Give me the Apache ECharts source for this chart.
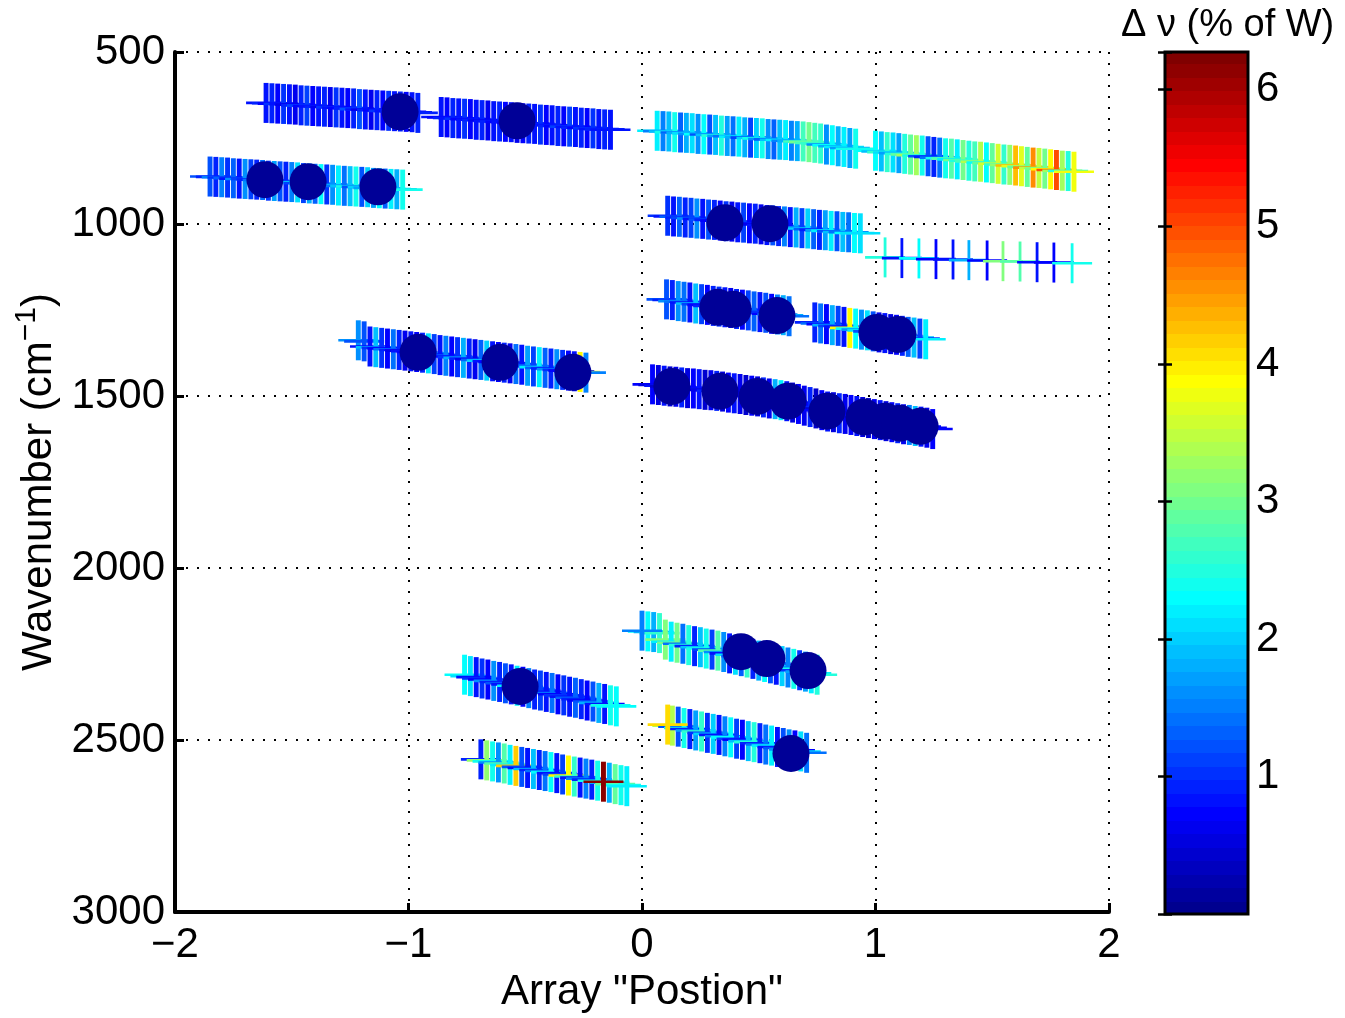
<!DOCTYPE html>
<html>
<head>
<meta charset="utf-8">
<script src="https://cdn.jsdelivr.net/npm/echarts@6/dist/echarts.min.js"></script>
<style>
html,body{margin:0;padding:0;background:#fff;}
#chart{width:1345px;height:1018px;}
</style>
</head>
<body>
<div id="chart"></div>
<script>
// Each band: [array position, wavenumber (cm^-1), delta-nu (% of W)]
const bandA = [[-1.610,648,0.8],[-1.585,649,0.9],[-1.560,650,0.7],[-1.535,651,1.0],[-1.510,652,0.8],[-1.485,653,0.6],[-1.460,655,0.9],[-1.435,656,1.1],[-1.410,657,0.7],[-1.385,658,0.8],[-1.360,659,0.9],[-1.335,660,0.6],[-1.310,661,1.0],[-1.285,662,0.8],[-1.260,663,0.7],[-1.235,664,0.9],[-1.210,666,1.2],[-1.185,667,0.8],[-1.160,668,0.6],[-1.135,669,0.9],[-1.110,670,0.7],[-1.085,671,1.0],[-1.060,672,0.8],[-1.035,673,0.9],[-1.010,674,0.7],[-0.985,675,0.8],[-0.960,677,0.9]];
const bandB = [[-0.860,689,0.8],[-0.835,690,0.7],[-0.810,692,0.9],[-0.785,693,0.8],[-0.760,694,1.0],[-0.735,695,0.7],[-0.710,697,0.8],[-0.685,698,0.9],[-0.660,699,0.6],[-0.635,701,0.8],[-0.610,702,0.9],[-0.585,703,0.7],[-0.560,704,0.8],[-0.535,706,0.6],[-0.510,707,0.7],[-0.485,708,0.9],[-0.460,709,0.8],[-0.435,711,1.0],[-0.410,712,0.7],[-0.385,713,0.8],[-0.360,715,0.9],[-0.335,716,0.7],[-0.310,717,1.1],[-0.285,718,0.8],[-0.260,720,0.9],[-0.235,721,0.7],[-0.210,722,1.0],[-0.185,724,0.8],[-0.160,725,0.9],[-0.135,726,0.8]];
const bandC = [[-1.850,862,1.2],[-1.825,863,0.9],[-1.800,864,1.5],[-1.775,865,1.0],[-1.750,867,1.3],[-1.725,868,0.8],[-1.700,869,1.6],[-1.675,870,1.1],[-1.650,871,0.9],[-1.625,872,1.4],[-1.600,874,1.0],[-1.575,875,1.7],[-1.550,876,1.2],[-1.525,877,0.9],[-1.500,878,1.5],[-1.475,879,2.1],[-1.450,881,1.1],[-1.425,882,1.8],[-1.400,883,1.3],[-1.375,884,2.3],[-1.350,885,1.0],[-1.325,886,1.6],[-1.300,888,2.2],[-1.275,889,1.4],[-1.250,890,1.9],[-1.225,891,2.4],[-1.200,892,1.2],[-1.175,893,2.0],[-1.150,895,1.7],[-1.125,896,2.3],[-1.100,897,1.3],[-1.075,898,2.2],[-1.050,899,1.8],[-1.025,900,2.4]];
const bandD = [[0.065,729,2.2],[0.090,730,1.5],[0.115,731,1.9],[0.140,733,2.4],[0.165,734,1.3],[0.190,735,1.8],[0.215,736,2.1],[0.240,738,1.6],[0.265,739,2.3],[0.290,740,1.2],[0.315,741,1.9],[0.340,743,2.5],[0.365,744,1.7],[0.390,745,1.4],[0.415,746,2.2],[0.440,748,1.8],[0.465,749,1.1],[0.490,750,2.0],[0.515,751,2.4],[0.540,753,1.6],[0.565,754,1.3],[0.590,755,1.9],[0.615,756,2.2],[0.640,758,1.5],[0.665,759,1.8],[0.690,760,2.7],[0.715,762,3.0],[0.740,764,2.7],[0.765,766,2.6],[0.790,769,1.6],[0.815,771,2.3],[0.840,774,1.8],[0.865,776,2.2],[0.890,779,1.7],[0.915,781,2.4]];
const bandE = [[1.000,787,2.3],[1.025,789,1.9],[1.050,791,2.6],[1.075,792,2.1],[1.100,794,1.7],[1.125,796,2.5],[1.150,798,2.9],[1.175,800,3.3],[1.200,801,2.4],[1.225,803,1.2],[1.250,805,0.9],[1.275,807,1.4],[1.300,809,2.4],[1.325,810,2.8],[1.350,812,2.2],[1.375,814,3.0],[1.400,816,2.5],[1.425,818,2.7],[1.450,819,3.4],[1.475,821,2.3],[1.500,823,2.9],[1.525,825,3.6],[1.550,827,2.6],[1.575,828,3.2],[1.600,830,4.3],[1.625,832,3.7],[1.650,834,2.9],[1.675,836,4.6],[1.700,837,3.5],[1.725,839,3.0],[1.750,841,3.9],[1.775,843,5.0],[1.800,845,3.3],[1.825,846,2.5],[1.850,848,3.8]];
const bandF = [[0.110,976,1.0],[0.135,978,0.8],[0.160,979,1.3],[0.185,981,0.9],[0.210,982,1.1],[0.235,984,1.6],[0.260,985,0.8],[0.285,987,1.2],[0.310,988,0.9],[0.335,990,0.7],[0.360,992,1.0],[0.385,993,0.6],[0.410,995,0.8],[0.435,996,1.1],[0.460,998,0.7],[0.485,999,0.9],[0.510,1001,0.6],[0.535,1003,0.8],[0.560,1004,1.2],[0.585,1006,0.9],[0.610,1007,1.5],[0.635,1009,0.8],[0.660,1010,1.8],[0.685,1012,1.1],[0.710,1013,2.0],[0.735,1015,1.3],[0.760,1017,0.9],[0.785,1018,1.7],[0.810,1020,2.2],[0.835,1021,1.2],[0.860,1023,1.9],[0.885,1024,1.4],[0.910,1026,2.3],[0.935,1027,2.1]];
const bandG = [[1.041,1097,2.5],[1.113,1099,0.8],[1.186,1100,2.3],[1.259,1102,0.7],[1.332,1103,0.8],[1.400,1105,1.8],[1.478,1106,0.7],[1.546,1108,3.1],[1.619,1109,2.8],[1.692,1111,0.8],[1.764,1112,0.7],[1.842,1114,2.4]];
const bandH = [[0.105,1219,1.2],[0.130,1221,0.9],[0.155,1224,1.6],[0.180,1226,1.4],[0.205,1228,0.8],[0.230,1231,1.9],[0.255,1233,1.1],[0.280,1235,0.7],[0.305,1238,0.9],[0.330,1240,1.0],[0.355,1242,0.8],[0.380,1244,0.6],[0.405,1247,0.9],[0.430,1249,0.7],[0.455,1251,1.1],[0.480,1254,1.3],[0.505,1256,0.8],[0.530,1258,1.2],[0.555,1261,0.7],[0.580,1263,1.5],[0.605,1265,1.8],[0.630,1268,1.4]];
const bandI = [[0.740,1286,0.9],[0.765,1289,1.4],[0.790,1291,0.7],[0.815,1294,1.8],[0.840,1296,1.1],[0.865,1299,0.8],[0.890,1302,3.9],[0.915,1304,2.3],[0.940,1307,1.6],[0.965,1309,2.1],[0.990,1312,1.2],[1.015,1315,0.6],[1.040,1317,0.8],[1.065,1320,0.5],[1.090,1322,0.7],[1.115,1325,0.9],[1.140,1328,1.3],[1.165,1330,1.9],[1.190,1333,1.1],[1.215,1335,2.2]];
const bandJ = [[0.045,1466,0.7],[0.070,1468,0.5],[0.095,1470,0.8],[0.120,1472,0.4],[0.145,1473,0.6],[0.170,1475,0.9],[0.195,1477,0.5],[0.220,1478,0.7],[0.245,1480,0.8],[0.270,1482,0.4],[0.295,1483,0.6],[0.320,1485,0.9],[0.345,1487,0.5],[0.370,1490,0.7],[0.395,1492,0.8],[0.420,1494,0.6],[0.445,1497,0.4],[0.470,1499,0.7],[0.495,1501,0.5],[0.520,1504,0.9],[0.545,1507,0.6],[0.570,1509,1.8],[0.595,1512,2.2],[0.620,1515,0.8],[0.645,1519,0.5],[0.670,1523,0.7],[0.695,1528,0.6],[0.720,1532,0.9],[0.745,1536,0.4],[0.770,1541,0.7],[0.795,1545,0.8],[0.820,1547,0.5],[0.845,1550,0.9],[0.870,1552,0.6],[0.895,1555,0.7],[0.920,1558,0.8],[0.945,1561,0.5],[0.970,1564,0.4],[0.995,1567,0.6],[1.020,1570,0.8],[1.045,1573,0.5],[1.070,1576,0.7],[1.095,1579,0.9],[1.120,1582,0.6],[1.145,1584,1.5],[1.170,1587,1.9],[1.195,1589,0.8],[1.220,1592,0.6],[1.245,1596,0.7]];
const bandK = [[-1.215,1338,1.6],[-1.190,1341,1.2],[-1.165,1356,0.8],[-1.140,1358,1.9],[-1.115,1360,1.0],[-1.090,1362,0.7],[-1.065,1364,1.4],[-1.040,1366,0.9],[-1.015,1368,0.6],[-0.990,1370,0.8],[-0.965,1372,0.7],[-0.940,1374,0.9],[-0.915,1376,2.1],[-0.890,1378,1.1],[-0.865,1381,0.8],[-0.840,1383,1.5],[-0.815,1385,0.7],[-0.790,1387,1.0],[-0.765,1389,1.8],[-0.740,1391,0.9],[-0.715,1393,0.6],[-0.690,1395,1.3],[-0.665,1397,2.0],[-0.640,1399,0.8],[-0.615,1401,0.7],[-0.590,1403,0.9],[-0.565,1405,0.6],[-0.540,1407,1.4],[-0.515,1409,0.8],[-0.490,1412,1.7],[-0.465,1414,1.1],[-0.440,1416,2.2],[-0.415,1418,1.3],[-0.390,1420,0.9],[-0.365,1422,1.6],[-0.340,1424,1.0],[-0.315,1426,0.7],[-0.290,1428,0.8],[-0.265,1430,3.9],[-0.240,1432,1.5]];
const bandL = [[0.025,2184,2.3],[0.050,2186,1.8],[0.075,2189,2.6],[0.100,2208,3.1],[0.125,2214,2.2],[0.150,2217,3.0],[0.175,2220,1.4],[0.200,2224,2.5],[0.225,2227,0.9],[0.250,2230,1.9],[0.275,2234,2.4],[0.300,2237,1.1],[0.325,2240,2.8],[0.350,2244,1.6],[0.375,2248,0.8],[0.400,2252,2.1],[0.425,2256,1.3],[0.450,2260,2.6],[0.475,2264,0.9],[0.500,2269,1.8],[0.525,2273,2.3],[0.550,2277,1.2],[0.575,2281,0.8],[0.600,2285,2.0],[0.625,2289,1.5],[0.650,2293,2.4],[0.675,2297,1.0],[0.700,2301,1.7],[0.725,2306,2.2],[0.750,2310,2.5],[0.000,2182,1.5]];
const bandM = [[0.130,2458,3.4],[0.155,2461,1.2],[0.180,2465,2.4],[0.205,2468,0.9],[0.230,2472,1.7],[0.255,2475,2.6],[0.280,2479,1.0],[0.305,2482,2.0],[0.330,2485,0.8],[0.355,2489,1.5],[0.380,2492,2.3],[0.405,2496,1.1],[0.430,2499,0.7],[0.455,2503,1.9],[0.480,2506,2.5],[0.505,2509,0.9],[0.530,2513,1.4],[0.555,2516,2.2],[0.580,2520,0.8],[0.605,2523,1.2],[0.630,2527,1.6],[0.655,2530,0.7],[0.680,2533,2.1],[0.705,2537,1.4],[0.110,2455,4.1]];
const bandN = [[-0.760,2310,2.3],[-0.735,2314,2.1],[-0.710,2317,0.8],[-0.685,2321,1.0],[-0.660,2324,0.7],[-0.635,2328,1.6],[-0.610,2331,0.9],[-0.585,2335,1.2],[-0.560,2338,0.8],[-0.535,2342,2.2],[-0.510,2345,0.7],[-0.485,2349,1.5],[-0.460,2353,0.9],[-0.435,2356,1.1],[-0.410,2360,0.8],[-0.385,2363,1.4],[-0.360,2367,0.7],[-0.335,2370,1.0],[-0.310,2374,0.8],[-0.285,2377,1.3],[-0.260,2381,0.9],[-0.235,2385,0.7],[-0.210,2388,1.2],[-0.185,2392,1.8],[-0.160,2395,0.8],[-0.135,2399,2.4],[-0.110,2402,2.3]];
const bandO = [[-0.690,2556,0.9],[-0.665,2559,3.2],[-0.640,2562,2.4],[-0.615,2565,1.6],[-0.590,2568,2.8],[-0.565,2572,2.2],[-0.540,2575,4.2],[-0.515,2578,1.2],[-0.490,2581,0.8],[-0.465,2584,1.9],[-0.440,2587,0.9],[-0.415,2590,1.4],[-0.390,2593,2.3],[-0.365,2596,0.8],[-0.340,2600,1.1],[-0.315,2603,3.9],[-0.290,2606,2.6],[-0.265,2609,0.8],[-0.240,2612,1.5],[-0.215,2615,0.9],[-0.190,2618,2.4],[-0.140,2624,1.8],[-0.115,2628,2.9],[-0.090,2631,2.4],[-0.065,2634,2.2],[-0.165,2621,6.2]];

// Points plotted with filled circles
const circlePoints = [[-1.036,674,0.05],[-0.535,700,0.05],[-1.615,871,0.05],[-1.430,877,0.05],[-1.131,892,0.05],[0.355,996,0.05],[0.548,999,0.05],[0.325,1242,0.05],[0.390,1248,0.05],[0.578,1266,0.05],[1.006,1315,0.05],[1.096,1321,0.05],[0.128,1472,0.05],[0.334,1486,0.05],[0.493,1501,0.05],[0.625,1515,0.05],[0.792,1544,0.05],[0.951,1561,0.05],[1.041,1573,0.05],[1.105,1579,0.05],[1.191,1588,0.05],[-0.959,1373,0.05],[-0.608,1402,0.05],[-0.296,1431,0.05],[0.424,2243,0.05],[0.535,2263,0.05],[0.711,2298,0.05],[0.638,2539,0.05],[-0.522,2344,0.05]];

// Axis ranges and ticks
const xTicks = [-2, -1, 0, 1, 2];
const yTicks = [500, 1000, 1500, 2000, 2500, 3000];
const colorTicks = [1, 2, 3, 4, 5, 6];
const colorRange = [0, 6.27];

const FONT = "'Liberation Sans', Arial, Helvetica, sans-serif";

// MATLAB-style jet colormap
function jet(f) {
  const c = v => Math.round(255 * Math.max(0, Math.min(1, v)));
  const r = c(1.5 - Math.abs(4 * f - 3));
  const g = c(1.5 - Math.abs(4 * f - 2));
  const b = c(1.5 - Math.abs(4 * f - 1));
  return 'rgb(' + r + ',' + g + ',' + b + ')';
}
const jet64 = [];
for (let i = 1; i <= 64; i++) jet64.push(jet(i / 64));
const barStops = [];
jet64.forEach((col, i) => {
  barStops.push({ offset: i / 64, color: col });
  barStops.push({ offset: (i + 1) / 64, color: col });
});

function crossRenderer(lw) {
  return function (params, api) {
    const p = api.coord([api.value(0), api.value(1)]);
    const col = api.visual('color');
    const h = 20;
    return {
      type: 'group',
      children: [
        { type: 'line', shape: { x1: p[0], y1: p[1] - h, x2: p[0], y2: p[1] + h }, style: { stroke: col, lineWidth: lw } },
        { type: 'line', shape: { x1: p[0] - h, y1: p[1], x2: p[0] + h, y2: p[1] }, style: { stroke: col, lineWidth: 2.6 } }
      ]
    };
  };
}

const bands = [bandA, bandB, bandC, bandD, bandE, bandF, bandG, bandH, bandI, bandJ, bandK, bandL, bandM, bandN, bandO];
const series = bands.map(b => ({
  type: 'custom',
  coordinateSystem: 'cartesian2d',
  xAxisIndex: 0, yAxisIndex: 0,
  encode: { x: 0, y: 1 },
  renderItem: crossRenderer(b === bandG ? 2.8 : 4.9),
  data: b,
  z: 2,
  silent: true
}));
series.push({
  type: 'scatter',
  xAxisIndex: 0, yAxisIndex: 0,
  symbol: 'circle',
  symbolSize: 37,
  itemStyle: { opacity: 1 },
  data: circlePoints,
  z: 3,
  silent: true
});
// colour bar body
series.push({
  type: 'custom',
  coordinateSystem: 'cartesian2d',
  xAxisIndex: 1, yAxisIndex: 1,
  data: [[0, colorRange[1]]],
  z: 1,
  silent: true,
  renderItem: function (params, api) {
    const tl = api.coord([0, colorRange[1]]);
    const br = api.coord([1, colorRange[0]]);
    return {
      type: 'rect',
      shape: { x: tl[0], y: tl[1], width: br[0] - tl[0], height: br[1] - tl[1] },
      style: {
        fill: { type: 'linear', x: 0, y: 1, x2: 0, y2: 0, colorStops: barStops },
        stroke: '#000', lineWidth: 3
      }
    };
  }
});

const markSeries = bands.map((b, i) => i).concat([bands.length]);

const minus = v => (v < 0 ? '\u2212' + Math.abs(v) : String(v));

const option = {
  animation: false,
  backgroundColor: '#fff',
  textStyle: { fontFamily: FONT },
  title: {
    text: '\u0394 \u03bd (% of W)',
    left: 1116, top: 2,
    textStyle: { fontFamily: FONT, fontSize: 38, fontWeight: 'normal', color: '#000' }
  },
  grid: [
    { left: 175, right: 236, top: 52, bottom: 104 },
    { left: 1165, width: 83, top: 52, bottom: 104 }
  ],
  visualMap: {
    type: 'continuous', show: false,
    min: colorRange[0], max: colorRange[1],
    dimension: 2, seriesIndex: markSeries,
    inRange: { color: jet64 }
  },
  xAxis: [
    {
      type: 'value', gridIndex: 0,
      min: xTicks[0], max: xTicks[xTicks.length - 1], interval: 1,
      name: 'Array "Postion"', nameLocation: 'middle', nameGap: 56,
      nameTextStyle: { fontFamily: FONT, fontSize: 42, color: '#000' },
      axisLine: { onZero: false, lineStyle: { color: '#000', width: 4 } },
      axisTick: { inside: true, length: 9, lineStyle: { color: '#000', width: 3 } },
      axisLabel: { fontFamily: FONT, fontSize: 42, color: '#000', margin: 12, formatter: minus },
      splitLine: { show: true, lineStyle: { color: '#000', width: 2, type: [2, 9] } }
    },
    {
      type: 'value', gridIndex: 1, min: 0, max: 1, show: false
    }
  ],
  yAxis: [
    {
      type: 'value', gridIndex: 0, inverse: true,
      min: yTicks[0], max: yTicks[yTicks.length - 1], interval: 500,
      name: 'Wavenumber (cm{sup|\u22121})', nameLocation: 'middle', nameGap: 96,
      nameTextStyle: {
        fontFamily: FONT, fontSize: 42, color: '#000',
        rich: { sup: { fontFamily: FONT, fontSize: 30, color: '#000', verticalAlign: 'top', padding: [0, 0, 26, 0] } }
      },
      axisLine: { onZero: false, lineStyle: { color: '#000', width: 4 } },
      axisTick: { inside: true, length: 9, lineStyle: { color: '#000', width: 3 } },
      axisLabel: { fontFamily: FONT, fontSize: 42, color: '#000', margin: 10, formatter: v => String(v) },
      splitLine: { show: true, lineStyle: { color: '#000', width: 2, type: [2, 9] } }
    },
    {
      type: 'value', gridIndex: 1, position: 'right', z: 5,
      min: colorRange[0], max: colorRange[1], interval: 1,
      axisLine: { show: false },
      axisTick: { inside: true, length: 7, lineStyle: { color: '#000', width: 2.5 } },
      axisLabel: {
        fontFamily: FONT, fontSize: 42, color: '#000', margin: 8,
        formatter: v => (colorTicks.indexOf(Math.round(v * 1000) / 1000) >= 0 ? String(v) : '')
      },
      splitLine: { show: false }
    },
    {
      type: 'value', gridIndex: 1, position: 'left', z: 5,
      min: colorRange[0], max: colorRange[1], interval: 1,
      axisLine: { show: false },
      axisTick: { inside: true, length: 7, lineStyle: { color: '#000', width: 2.5 } },
      axisLabel: { show: false },
      splitLine: { show: false }
    }
  ],
  series: series
};

const chart = echarts.init(document.getElementById('chart'), null, { renderer: 'canvas' });
chart.setOption(option);
</script>
</body>
</html>
